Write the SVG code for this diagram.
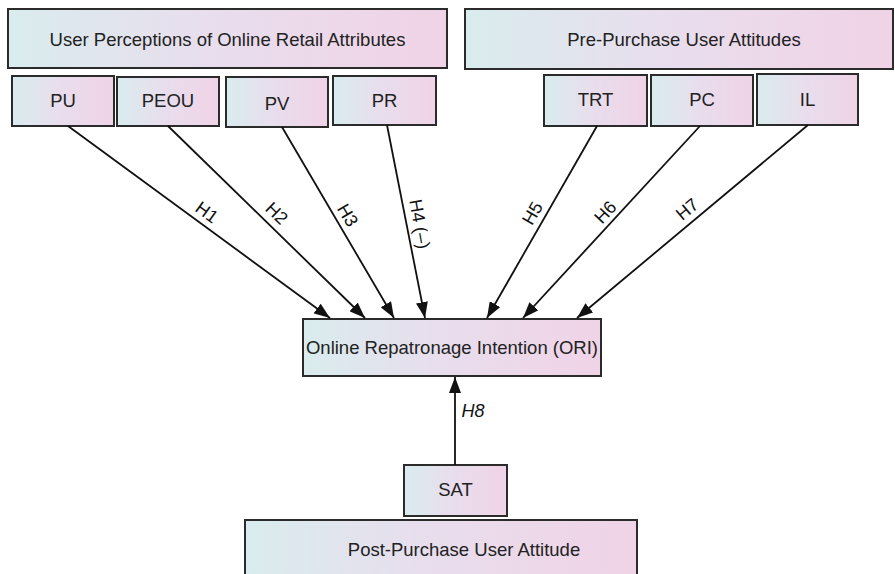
<svg xmlns="http://www.w3.org/2000/svg" width="895" height="574" viewBox="0 0 895 574">
  <defs>
    <linearGradient id="boxFill" x1="0" y1="0" x2="1" y2="0">
      <stop offset="0" stop-color="#d9ecee"/>
      <stop offset="0.45" stop-color="#e8deed"/>
      <stop offset="1" stop-color="#f0d3e6"/>
    </linearGradient>
    <marker id="arrow" markerUnits="userSpaceOnUse" markerWidth="17" markerHeight="12" refX="16" refY="6" orient="auto">
      <path d="M0,0 L16,6 L0,12 z" fill="#111"/>
    </marker>
    <style>
      .box { fill: url(#boxFill); stroke: #2b2b2b; stroke-width: 2; }
      .lbl { font-family: "Liberation Sans", Arial, sans-serif; font-size: 18.5px; fill: #222; text-anchor: middle; }
      .hyp { font-family: "Liberation Sans", Arial, sans-serif; font-size: 18px; fill: #111; text-anchor: middle; }
      .edge { stroke: #111; stroke-width: 1.8; fill: none; marker-end: url(#arrow); }
    </style>
  </defs>
  <rect width="895" height="574" fill="#ffffff"/>

  <!-- Group headers -->
  <g id="user-perceptions">
    <rect class="box" x="8" y="9" width="439" height="59"/>
    <text class="lbl" x="227.5" y="46">User Perceptions of Online Retail Attributes</text>
  </g>
  <g id="pre-purchase">
    <rect class="box" x="465" y="9" width="428" height="60"/>
    <text class="lbl" x="684" y="46">Pre-Purchase User Attitudes</text>
  </g>
  <g id="post-purchase">
    <rect class="box" x="245" y="520" width="392" height="64"/>
    <text class="lbl" x="464" y="556">Post-Purchase User Attitude</text>
  </g>

  <!-- Constructs -->
  <g id="PU">
    <rect class="box" x="12" y="76" width="102" height="50"/>
    <text class="lbl" x="63" y="107">PU</text>
  </g>
  <g id="PEOU">
    <rect class="box" x="117" y="77" width="102" height="49"/>
    <text class="lbl" x="168" y="107">PEOU</text>
  </g>
  <g id="PV">
    <rect class="box" x="226" y="77" width="102" height="50"/>
    <text class="lbl" x="277" y="110">PV</text>
  </g>
  <g id="PR">
    <rect class="box" x="333" y="76" width="103" height="49"/>
    <text class="lbl" x="384.5" y="107">PR</text>
  </g>
  <g id="TRT">
    <rect class="box" x="544" y="75" width="103" height="51"/>
    <text class="lbl" x="595.5" y="106">TRT</text>
  </g>
  <g id="PC">
    <rect class="box" x="651" y="75" width="102" height="51"/>
    <text class="lbl" x="702" y="106">PC</text>
  </g>
  <g id="IL">
    <rect class="box" x="757" y="74" width="101" height="51"/>
    <text class="lbl" x="807.5" y="106">IL</text>
  </g>
  <g id="ORI">
    <rect class="box" x="303" y="319" width="298" height="57"/>
    <text class="lbl" x="452" y="354">Online Repatronage Intention (ORI)</text>
  </g>
  <g id="SAT">
    <rect class="box" x="404" y="465" width="103" height="51"/>
    <text class="lbl" x="455.5" y="496">SAT</text>
  </g>

  <!-- Hypothesised paths -->
  <g id="connectors">
    <line class="edge" x1="68" y1="126" x2="330" y2="318"/>
    <line class="edge" x1="168" y1="126" x2="365" y2="318"/>
    <line class="edge" x1="282" y1="127" x2="394" y2="318"/>
    <line class="edge" x1="387" y1="125" x2="425" y2="318"/>
    <line class="edge" x1="597" y1="126" x2="487" y2="318"/>
    <line class="edge" x1="700" y1="126" x2="523" y2="318"/>
    <line class="edge" x1="808" y1="125" x2="577" y2="318"/>
    <line class="edge" x1="455" y1="465" x2="455" y2="377"/>

    <text class="hyp" transform="translate(207,212) rotate(36)" y="6.5">H1</text>
    <text class="hyp" transform="translate(277,213) rotate(44)" y="6.5">H2</text>
    <text class="hyp" transform="translate(348,215) rotate(59.5)" y="6.5">H3</text>
    <text class="hyp" transform="translate(420,224) rotate(80)" y="6.5">H4 (–)</text>
    <text class="hyp" transform="translate(532,213) rotate(-60)" y="6.5">H5</text>
    <text class="hyp" transform="translate(605,212) rotate(-47)" y="6.5">H6</text>
    <text class="hyp" transform="translate(687,209) rotate(-40)" y="6.5">H7</text>
    <text class="hyp" x="473" y="417" font-style="italic">H8</text>
  </g>
</svg>
